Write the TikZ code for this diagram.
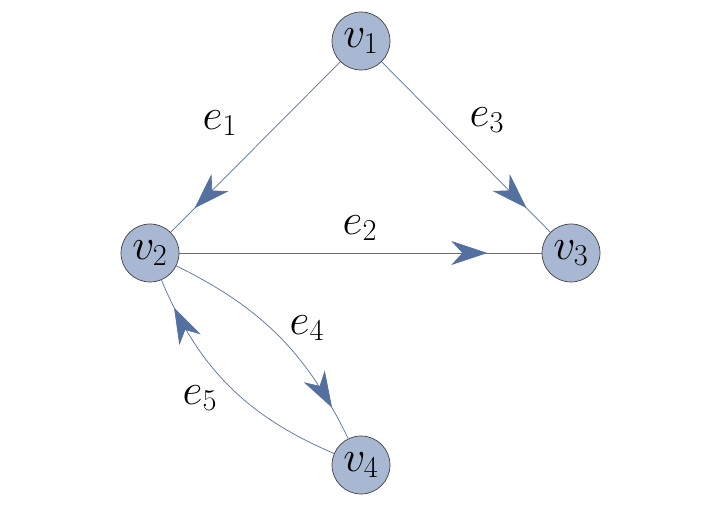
\documentclass[tikz,border=0pt]{standalone}
\usetikzlibrary{arrows.meta,decorations.markings}
\definecolor{vfill}{RGB}{168,184,210}
\definecolor{edgeblue}{RGB}{84,112,160}
\tikzset{
    vertex/.style={circle,draw=black!75,fill=vfill,minimum size=1.16cm,inner sep=0pt,font=\fontsize{24}{28}\selectfont},
    elabel/.style={font=\fontsize{24}{28}\selectfont},
    arc/.style={draw=edgeblue,thin,postaction={decorate},
        decoration={markings,mark=at position #1 with {\arrow{Stealth[length=0.72cm,width=0.48cm,inset=0.22cm,fill=edgeblue]}}}},
    arc/.default=0.86
}
\begin{document}
\begin{tikzpicture}
    \useasboundingbox (0,0) rectangle (14.4,10.3);
    % vertices
    \node[vertex] (v1) at (7.22,9.48) {\(v_1\)};
    \node[vertex] (v2) at (3.0,5.24) {\(v_2\)};
    \node[vertex] (v3) at (11.42,5.24) {\(v_3\)};
    \node[vertex] (v4) at (7.22,1.0) {\(v_4\)};
    % edges
    \draw[arc] (v1) -- (v2);
    \draw[arc=0.85] (v2) -- (v3);
    \draw[arc] (v1) -- (v3);
    \draw[arc=0.86] (v2) to[bend left=19] (v4);
    \draw[arc=0.88] (v4) to[bend left=22] (v2);
    % labels
    \node[elabel] (e1) at (4.4,7.84) {\(e_1\)};
    \node[elabel] (e2) at (7.2,5.74) {\(e_2\)};
    \node[elabel] (e3) at (9.74,7.9) {\(e_3\)};
    \node[elabel] (e4) at (6.14,3.74) {\(e_4\)};
    \node[elabel] (e5) at (4.0,2.34) {\(e_5\)};
\end{tikzpicture}
\end{document}
